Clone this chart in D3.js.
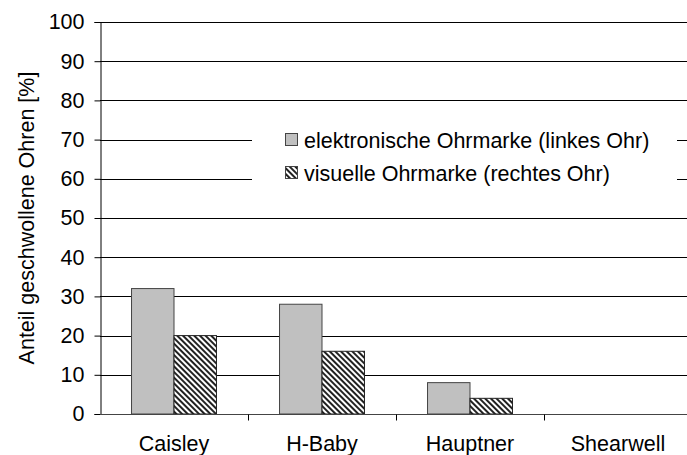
<!DOCTYPE html>
<html>
<head>
<meta charset="utf-8">
<script src="https://cdn.jsdelivr.net/npm/d3@7"></script>
<style>
  body { margin: 0; background: #fff; }
  text { font-family: "Liberation Sans", Arial, sans-serif; fill: #000; }
</style>
</head>
<body>
<div id="chart"></div>
<script>
// data
const categories = ['Caisley', 'H-Baby', 'Hauptner', 'Shearwell'];
const series_names = ['elektronische Ohrmarke (linkes Ohr)', 'visuelle Ohrmarke (rechtes Ohr)'];
const links = [32, 28, 8, 0];
const rechts = [20, 16, 4, 0];
const y_ticks = [0, 10, 20, 30, 40, 50, 60, 70, 80, 90, 100];

const canvas_w = 687;
const canvas_h = 455;
const font_size = 21.5;

const svg = d3.select('#chart')
  .append('svg')
  .attr('width', canvas_w)
  .attr('height', canvas_h);

// hatch pattern for second series
const defs = svg.append('defs');
const pat = defs.append('pattern')
  .attr('id', 'hatch')
  .attr('patternUnits', 'userSpaceOnUse')
  .attr('width', 4)
  .attr('height', 4)
  .attr('patternTransform', 'rotate(45)');
pat.append('rect').attr('width', 4).attr('height', 4).attr('fill', '#fff');
pat.append('rect').attr('width', 4).attr('height', 2).attr('fill', '#222');

// scales
const x = d3.scaleBand()
  .domain(categories)
  .range([100, 692])
  .paddingInner(0.426)
  .paddingOuter(0.213);

const x_sub = d3.scaleBand()
  .domain([0, 1])
  .range([0, x.bandwidth()]);

const y = d3.scaleLinear()
  .domain([0, 100])
  .range([414, 22]);

// gridlines
svg.append('g')
  .selectAll('line')
  .data(y_ticks.filter(d => d > 0))
  .enter()
  .append('line')
  .attr('x1', 100)
  .attr('x2', canvas_w)
  .attr('y1', d => Math.round(y(d)) + 0.5)
  .attr('y2', d => Math.round(y(d)) + 0.5)
  .attr('stroke', '#000')
  .attr('stroke-width', 1);

// bars
const groups = svg.append('g')
  .selectAll('g')
  .data(categories)
  .enter()
  .append('g')
  .attr('transform', d => 'translate(' + x(d) + ',0)');

groups.append('rect')
  .attr('x', x_sub(0))
  .attr('y', (d, i) => y(links[i]))
  .attr('width', x_sub.bandwidth())
  .attr('height', (d, i) => y(0) - y(links[i]))
  .attr('fill', '#c0c0c0')
  .attr('stroke', '#444')
  .attr('stroke-width', 1)
  .style('display', (d, i) => links[i] > 0 ? null : 'none');

groups.append('rect')
  .attr('x', x_sub(1))
  .attr('y', (d, i) => y(rechts[i]))
  .attr('width', x_sub.bandwidth())
  .attr('height', (d, i) => y(0) - y(rechts[i]))
  .attr('fill', 'url(#hatch)')
  .attr('stroke', '#222')
  .attr('stroke-width', 1)
  .style('display', (d, i) => rechts[i] > 0 ? null : 'none');

// y axis
const y_axis = svg.append('g')
  .attr('transform', 'translate(100.5,0)')
  .call(d3.axisLeft(y).tickValues(y_ticks).tickSize(6).tickPadding(10));
y_axis.select('.domain').attr('stroke', '#000');
y_axis.selectAll('.tick line').attr('stroke', '#000');
y_axis.selectAll('text')
  .style('font-size', font_size + 'px');

// x axis
const x_axis = svg.append('g')
  .attr('transform', 'translate(0,' + (Math.round(y(0)) + 0.5) + ')');
x_axis.append('line')
  .attr('x1', 100).attr('x2', canvas_w)
  .attr('stroke', '#444');
x_axis.selectAll('line.sep')
  .data(categories.slice(1))
  .enter()
  .append('line')
  .attr('class', 'sep')
  .attr('x1', d => Math.round(x(d) - x.step() * x.paddingInner() / 2) + 0.5)
  .attr('x2', d => Math.round(x(d) - x.step() * x.paddingInner() / 2) + 0.5)
  .attr('y1', 0)
  .attr('y2', 6)
  .attr('stroke', '#000');
x_axis.selectAll('text')
  .data(categories)
  .enter()
  .append('text')
  .attr('x', d => x(d) + x.bandwidth() / 2)
  .attr('y', 36)
  .attr('text-anchor', 'middle')
  .style('font-size', font_size + 'px')
  .text(d => d);

// y axis title
svg.append('text')
  .attr('transform', 'translate(34,218) rotate(-90)')
  .attr('text-anchor', 'middle')
  .style('font-size', font_size + 'px')
  .text('Anteil geschwollene Ohren [%]');

// legend
const legend = svg.append('g');
legend.append('rect')
  .attr('x', 252).attr('y', 120)
  .attr('width', 425).attr('height', 78)
  .attr('fill', '#fff');

const legend_rows = [
  { name: series_names[0], fill: '#c0c0c0', cy: 140 },
  { name: series_names[1], fill: 'url(#hatch)', cy: 173 }
];
const rows = legend.selectAll('g.row')
  .data(legend_rows)
  .enter()
  .append('g')
  .attr('class', 'row');
rows.append('rect')
  .attr('x', 285.5)
  .attr('y', d => d.cy - 6.5)
  .attr('width', 12)
  .attr('height', 12)
  .attr('fill', d => d.fill)
  .attr('stroke', '#444');
rows.append('text')
  .attr('x', 304)
  .attr('y', d => d.cy)
  .attr('dy', '0.35em')
  .style('font-size', font_size + 'px')
  .text(d => d.name);
</script>
</body>
</html>
